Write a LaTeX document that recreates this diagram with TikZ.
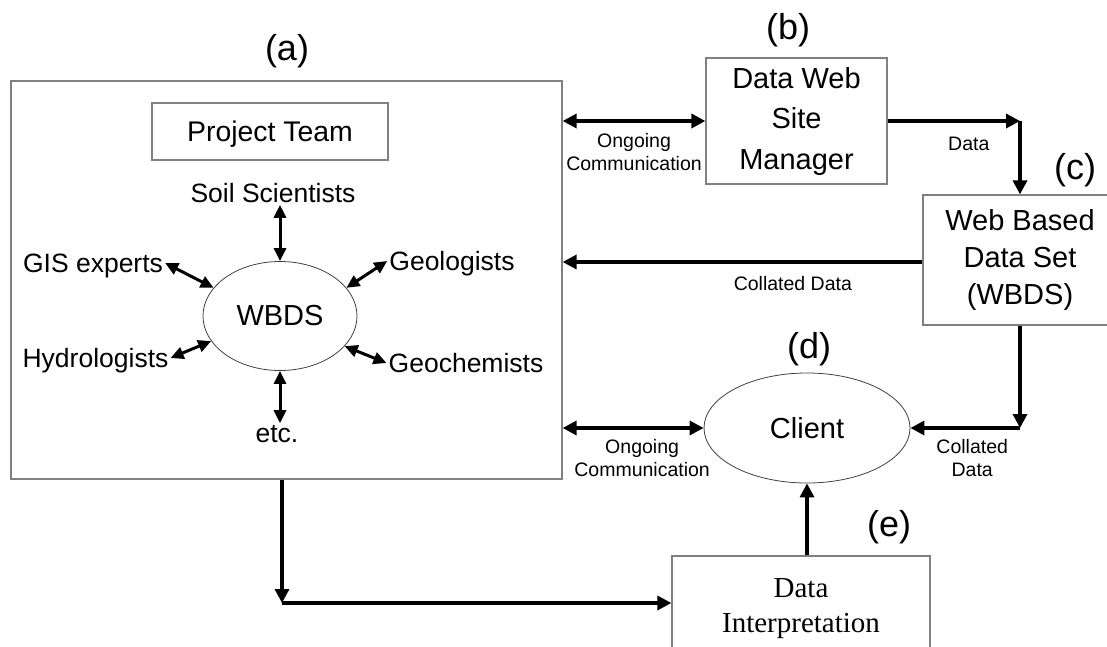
\documentclass[tikz,border=0pt]{standalone}
\usepackage{fontspec}
\setmainfont{Liberation Sans}
\newfontfamily\timesfont{Liberation Serif}
\usetikzlibrary{shapes.geometric,arrows.meta}
\tikzset{
	box/.style={draw=gray, line width=1.2pt, inner sep=0pt, align=center},
	oval/.style={draw=black!75, line width=0.8pt, ellipse, inner sep=0pt},
	tag/.style={font=\fontsize{36}{40}\selectfont},
	member/.style={font=\fontsize{26.5}{30}\selectfont, inner sep=2pt, text depth=0pt},
	note/.style={font=\fontsize{19.5}{23}\selectfont, align=center, inner sep=2pt},
	arr/.style={line width=3.3pt, -{Triangle[length=14pt,width=14pt]}},
	dblarr/.style={line width=3.3pt, {Triangle[length=14pt,width=14pt]}-{Triangle[length=14pt,width=14pt]}},
	link/.style={line width=3pt, {Triangle[length=13pt,width=12pt]}-{Triangle[length=13pt,width=12pt]}},
}
\begin{document}
\begin{tikzpicture}[x=1pt, y=-1pt]
	\useasboundingbox (0,0) rectangle (1107,646);
	\clip (0,0) rectangle (1107,646);
	\node[box, minimum width=551pt, minimum height=398pt] (team) at (286.5,280) {};
	\node[tag] (lbla) at (287,51) {(a)};
	\node[box, minimum width=236pt, minimum height=57pt, text depth=0pt, font=\fontsize{28.4}{32}\selectfont] (proj) at (270,131.5) {Project Team};
	\node[oval, minimum width=154pt, minimum height=109pt, font=\fontsize{29}{32}\selectfont] (wbds) at (280,316) {WBDS};
	\node[member] (soil) at (273,193) {Soil Scientists};
	\node[member] (gis) at (93,263) {GIS experts};
	\node[member] (geol) at (452,261) {Geologists};
	\node[member] (hydro) at (95.5,358) {Hydrologists};
	\node[member] (geochem) at (466,363) {Geochemists};
	\node[member] (etc) at (277,434) {etc.};

	\node[box, minimum width=181pt, minimum height=126pt, font=\fontsize{29}{40.5}\selectfont] (dwsm) at (796.5,121) {Data Web\\Site\\Manager};
	\node[tag] (lblb) at (788,30) {(b)};
	\node[box, minimum width=194pt, minimum height=130pt, font=\fontsize{29}{37}\selectfont] (wbdsset) at (1020,260) {Web Based\\Data Set\\(WBDS)};
	\node[tag] (lblc) at (1075,170) {(c)};
	\node[oval, minimum width=206pt, minimum height=110pt, font=\fontsize{29}{32}\selectfont] (client) at (807,428) {Client};
	\node[tag] (lbld) at (809,349) {(d)};
	\node[box, minimum width=258pt, minimum height=106pt, font=\timesfont\fontsize{29}{35}\selectfont] (interp) at (801,609) {Data\\Interpretation};
	\node[tag] (lble) at (889,527) {(e)};

	\coordinate (c1) at (wbdsset.north |- dwsm.east);
	\coordinate (c2) at (wbdsset.south |- client.east);
	\coordinate (c3) at (282,603);
	\coordinate (c4) at ([yshift=-2pt]wbdsset.west);

	\draw[link] (soil.south -| wbds.north) -- (wbds.north);
	\draw[link] (gis.east) -- (wbds.157);
	\draw[link] (geol.west) -- (wbds.23);
	\draw[link] (hydro.east) -- (wbds.200);
	\draw[link] (geochem.west) -- (wbds.-25);
	\draw[link] (wbds.south) -- (wbds.south |- etc.north);

	\draw[dblarr] (team.east |- dwsm.west) -- node[note, below=9pt] {Ongoing\\Communication} (dwsm.west);
	\draw[arr] (dwsm.east) -- node[note, below=12pt, xshift=15pt] {Data} (c1);
	\draw[arr] (c1) -- (wbdsset.north);
	\draw[arr] (c4) -- node[note, below=11pt, pos=0.36] {Collated Data} (c4 -| team.east);
	\draw[arr] (wbdsset.south) -- (c2);
	\draw[arr] (c2) -- node[note, below=8pt, xshift=7pt] {Collated\\Data} (client.east);
	\draw[dblarr] (team.east |- client.west) -- node[note, below=8pt, xshift=9pt] {Ongoing\\Communication} (client.west);
	\draw[arr] (client.south |- interp.north) -- (client.south);
	\draw[arr] (c3 |- team.south) -- (c3);
	\draw[arr] (c3) -- (c3 -| interp.west);
\end{tikzpicture}
\end{document}
